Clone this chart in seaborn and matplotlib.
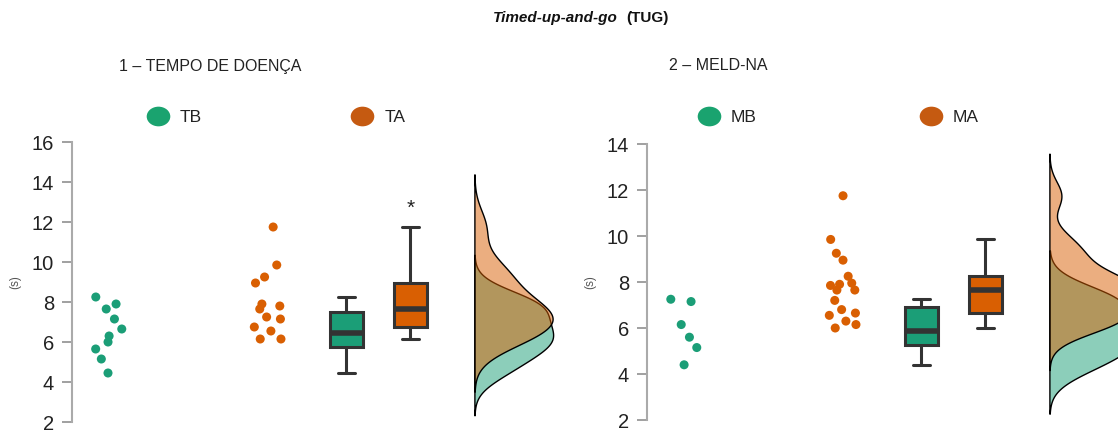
import matplotlib
matplotlib.use("Agg")
import matplotlib.pyplot as plt
import numpy as np
import pandas as pd
import seaborn as sns
from matplotlib import transforms
from matplotlib.lines import Line2D
from matplotlib.path import Path
from matplotlib.transforms import Affine2D

# TUG times (s)
TB = [8.25, 7.9, 7.65, 7.15, 6.65, 6.3, 6.0, 5.65, 5.15, 4.45]
TA = [11.75, 9.85, 9.25, 8.95, 7.9, 7.8, 7.65, 7.25, 7.15, 6.75, 6.55, 6.15, 6.15]
MB = [7.25, 7.15, 6.15, 5.6, 5.15, 4.4]
MA = [11.75, 9.85, 9.25, 8.95, 8.25, 7.95, 7.9, 7.85, 7.65, 7.65,
      7.2, 6.8, 6.65, 6.55, 6.3, 6.15, 6.0]

TITLES = ["1 – TEMPO DE DOENÇA", "2 – MELD-NA"]
Y_MAX = [16, 14]

GREEN = "#1b9e77"
ORANGE = "#d95f02"
LEG_GREEN = "#1aa36f"
LEG_ORANGE = "#c55a11"

# layout on the x axis (1 unit = 160 px)
STRIP_X = (0.0, 1.0)
BOX_X = (1.49, 1.89)
VIOLIN_X = 2.29
X_LIM = (-0.225, -0.225 + 470 / 160)

W, H = 1118, 430

sns.set_style("ticks")
plt.rcParams["font.family"] = ["Liberation Sans", "DejaVu Sans"]

ELLIPSE = Path.unit_circle().transformed(Affine2D().scale(1.2, 1.0))


def nrd0_factor(vals):
    # R's bw.nrd0 expressed as a scipy gaussian_kde factor
    vals = np.asarray(vals)
    sd = vals.std(ddof=1)
    iqr = np.subtract(*np.percentile(vals, [75, 25]))
    bw = 0.9 * min(sd, iqr / 1.34) * len(vals) ** -0.2
    return bw / sd


def draw_panel(fig, ax, labels, series, ymax, star, leg_left, colspace):
    df = pd.DataFrame({
        "group": np.repeat(labels, [len(s) for s in series]),
        "value": np.concatenate(series),
    })
    df["strip_x"] = df["group"].map(dict(zip(labels, STRIP_X)))
    df["box_x"] = df["group"].map(dict(zip(labels, BOX_X)))
    pal = dict(zip(labels, [GREEN, ORANGE]))

    np.random.seed(7)
    sns.stripplot(data=df, x="strip_x", y="value", hue="group", palette=pal,
                  native_scale=True, orient="x", jitter=0.09, size=6.5,
                  linewidth=0, legend=False, ax=ax)
    sns.boxplot(data=df, x="box_x", y="value", hue="group", palette=pal,
                native_scale=True, orient="x", width=0.52, showfliers=False,
                saturation=1, linecolor="#333333", linewidth=2.2,
                medianprops=dict(linewidth=4), legend=False, ax=ax)

    # half violins on the right, on an inset sharing the y scale
    trans = transforms.blended_transform_factory(ax.transData, ax.transAxes)
    vax = ax.inset_axes([VIOLIN_X, 0, 0.6, 1], transform=trans)
    for vals, col in zip(series, [GREEN, ORANGE]):
        sns.kdeplot(y=np.asarray(vals), ax=vax, fill=True, color=col, alpha=0.5,
                    edgecolor="black", linewidth=1, bw_method=nrd0_factor(vals),
                    cut=3)
    vax.set_ylim(2, ymax)
    vax.set_xlim(0, 0.31)
    vax.set_xlabel("")
    vax.set_ylabel("")
    vax.axis("off")

    if star:
        ax.text(BOX_X[1], max(series[1]) + 0.65, "*", ha="center", va="baseline",
                fontsize=15, color="#222222")

    ax.set_xlim(*X_LIM)
    ax.set_ylim(2, ymax)
    ax.set_yticks(np.arange(2, ymax + 1, 2))
    ax.set_xticks([])
    ax.set_xlabel("")
    ax.set_ylabel("(s)", fontsize=8.5, color="#555555")
    ax.yaxis.set_label_coords(-0.108, 0.5)
    sns.despine(ax=ax, bottom=True)
    ax.spines["left"].set_color("#aaaaaa")
    ax.spines["left"].set_linewidth(1.5)
    ax.tick_params(axis="y", length=7, width=1.3, color="#999999",
                   labelsize=14.5, labelcolor="#222222", pad=6)

    handles = [Line2D([], [], ls="", marker=ELLIPSE, markersize=17,
                      markerfacecolor=c, markeredgewidth=0)
               for c in (LEG_GREEN, LEG_ORANGE)]
    ax.legend(handles, labels, ncol=2, frameon=False, loc="center left",
              bbox_to_anchor=(leg_left / W, 1 - 117 / H),
              bbox_transform=fig.transFigure, borderpad=0, borderaxespad=0,
              handlelength=1.5, handletextpad=0.5, columnspacing=colspace,
              fontsize=12.5, labelcolor="#222222")


fig = plt.figure(figsize=(W / 100, H / 100), dpi=100)
ax1 = fig.add_axes([72 / W, 8 / H, 470 / W, 280 / H])
ax2 = fig.add_axes([647 / W, 10 / H, 470 / W, 276 / H])

draw_panel(fig, ax1, ["TB", "TA"], [TB, TA], Y_MAX[0], True, 145, 8.5)
draw_panel(fig, ax2, ["MB", "MA"], [MB, MA], Y_MAX[1], False, 696, 9.3)

fig.text(119 / W, 1 - 66 / H, TITLES[0], fontsize=11.5, va="center", color="#222222")
fig.text(669 / W, 1 - 65 / H, TITLES[1], fontsize=11.5, va="center", color="#222222")

fig.text(618 / W, 1 - 18 / H, "Timed-up-and-go", fontsize=11, fontweight="bold",
         fontstyle="italic", ha="right", va="center", color="#111111")
fig.text(626 / W, 1 - 18 / H, "(TUG)", fontsize=11, fontweight="bold",
         ha="left", va="center", color="#111111")

fig.savefig("out.png", dpi=100)
